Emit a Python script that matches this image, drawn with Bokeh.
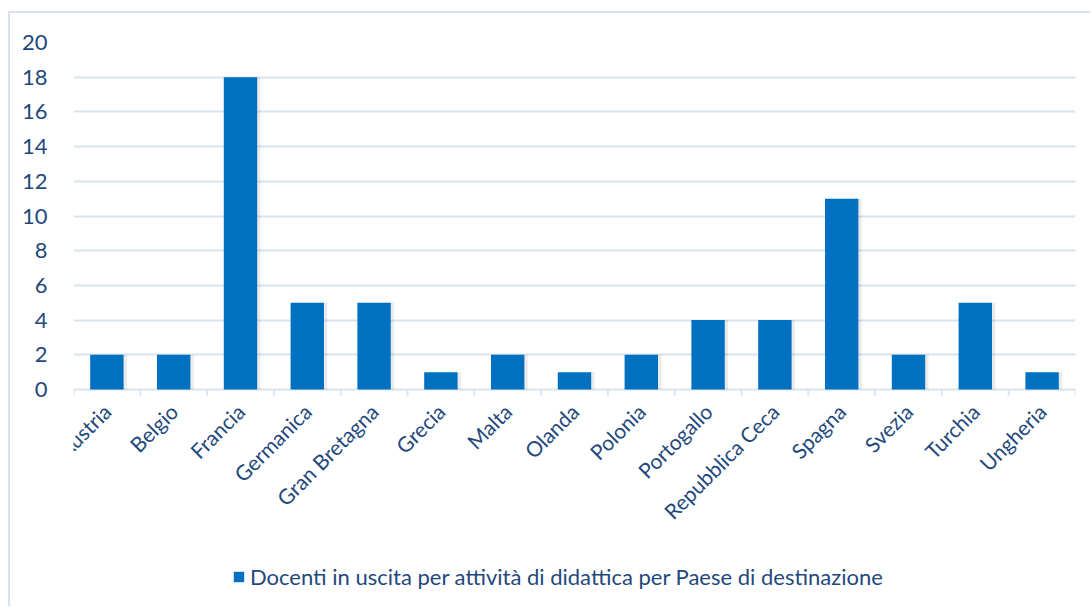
from math import pi

from bokeh.embed import file_html
from bokeh.models import (ColumnDataSource, FixedTicker, Legend, LegendItem,
                          Range1d)
from bokeh.plotting import figure
from bokeh.resources import INLINE

# Teaching staff mobility by destination country
countries = ["Austria", "Belgio", "Francia", "Germanica", "Gran Bretagna",
             "Grecia", "Malta", "Olanda", "Polonia", "Portogallo",
             "Repubblica Ceca", "Spagna", "Svezia", "Turchia", "Ungheria"]
docenti = [2, 2, 18, 5, 5, 1, 2, 1, 2, 4, 4, 11, 2, 5, 1]
y_ticks = [0, 2, 4, 6, 8, 10, 12, 14, 16, 18, 20]
series_name = "Docenti in uscita per attività di didattica per Paese di destinazione"

BAR = "#0070C0"
TEXT = "#1F497D"
GRID = "#D9E2F3"
FONT = "Lato"
EDGE = f"2px solid {GRID}"

# vertical geometry: value axis spans 347 px, 219 px of room for names and legend
AXIS_PX = 347
BELOW_PX = 219
Y_MAX = 20
UNIT = Y_MAX / AXIS_PX           # data units per pixel
TICK_LEN = 6 * UNIT

positions = list(range(len(countries)))
boundaries = [x - 0.5 for x in range(len(countries) + 1)]
source = ColumnDataSource(dict(x=positions, top=docenti, name=countries,
                               xs=[x + 0.05 for x in positions],
                               base=[0] * len(countries)))

p = figure(width=1082, height=595, output_backend="svg", toolbar_location=None,
           x_axis_type=None,
           x_range=Range1d(-0.5, len(countries) - 0.5),
           y_range=Range1d(-BELOW_PX * UNIT, Y_MAX),
           min_border_left=63, min_border_right=17,
           min_border_top=29, min_border_bottom=0)
p.margin = (11, 0, 0, 8)
p.styles = {"border-left": EDGE, "border-top": EDGE}
p.outline_line_color = None
p.background_fill_color = "white"
p.border_fill_color = "white"

# y axis: labels only
p.yaxis.ticker = FixedTicker(ticks=y_ticks)
p.yaxis.axis_line_color = None
p.yaxis.major_tick_line_color = None
p.yaxis.minor_tick_line_color = None
p.yaxis.major_label_standoff = 20
p.yaxis.major_label_text_font = FONT
p.yaxis.major_label_text_font_size = "22px"
p.yaxis.major_label_text_color = TEXT

# horizontal gridlines (the one at 0 doubles as the category axis line)
p.ygrid.ticker = FixedTicker(ticks=y_ticks)
p.ygrid.grid_line_color = GRID
p.ygrid.grid_line_width = 2

# soft shadow behind the bars
p.vbar(x="xs", top="top", width=0.5, bottom=0, source=source,
       fill_color="#000000", fill_alpha=0.08, line_color=None)
bars = p.vbar(x="x", top="top", width=0.5, source=source,
              fill_color=BAR, line_color=None)

# tick marks between categories
p.segment(x0=boundaries, y0=[0] * len(boundaries),
          x1=boundaries, y1=[-TICK_LEN] * len(boundaries),
          line_color=GRID, line_width=2)

# category names under each bar
p.text(x="x", y="base", text="name", source=source, angle=pi / 4,
       y_offset=18, text_align="right", text_baseline="middle",
       text_font=FONT_VALUE if False else None, text_font_size="21px",
       text_color=TEXT) if False else None
from bokeh.core.properties import value
p.text(x="x", y="base", text="name", source=source, angle=pi / 4,
       y_offset=18, text_align="right", text_baseline="middle",
       text_font=value(FONT), text_font_size="21px", text_color=TEXT)

legend = Legend(items=[LegendItem(label=series_name, renderers=[bars])],
                location=(159, 18), orientation="horizontal",
                padding=0, margin=0, spacing=0,
                glyph_width=13, glyph_height=13, label_standoff=5,
                label_text_font=FONT, label_text_font_size="22px",
                label_text_color=TEXT, border_line_color=None,
                background_fill_alpha=0)
p.add_layout(legend)

open("out.html", "w").write(file_html(p, INLINE))
